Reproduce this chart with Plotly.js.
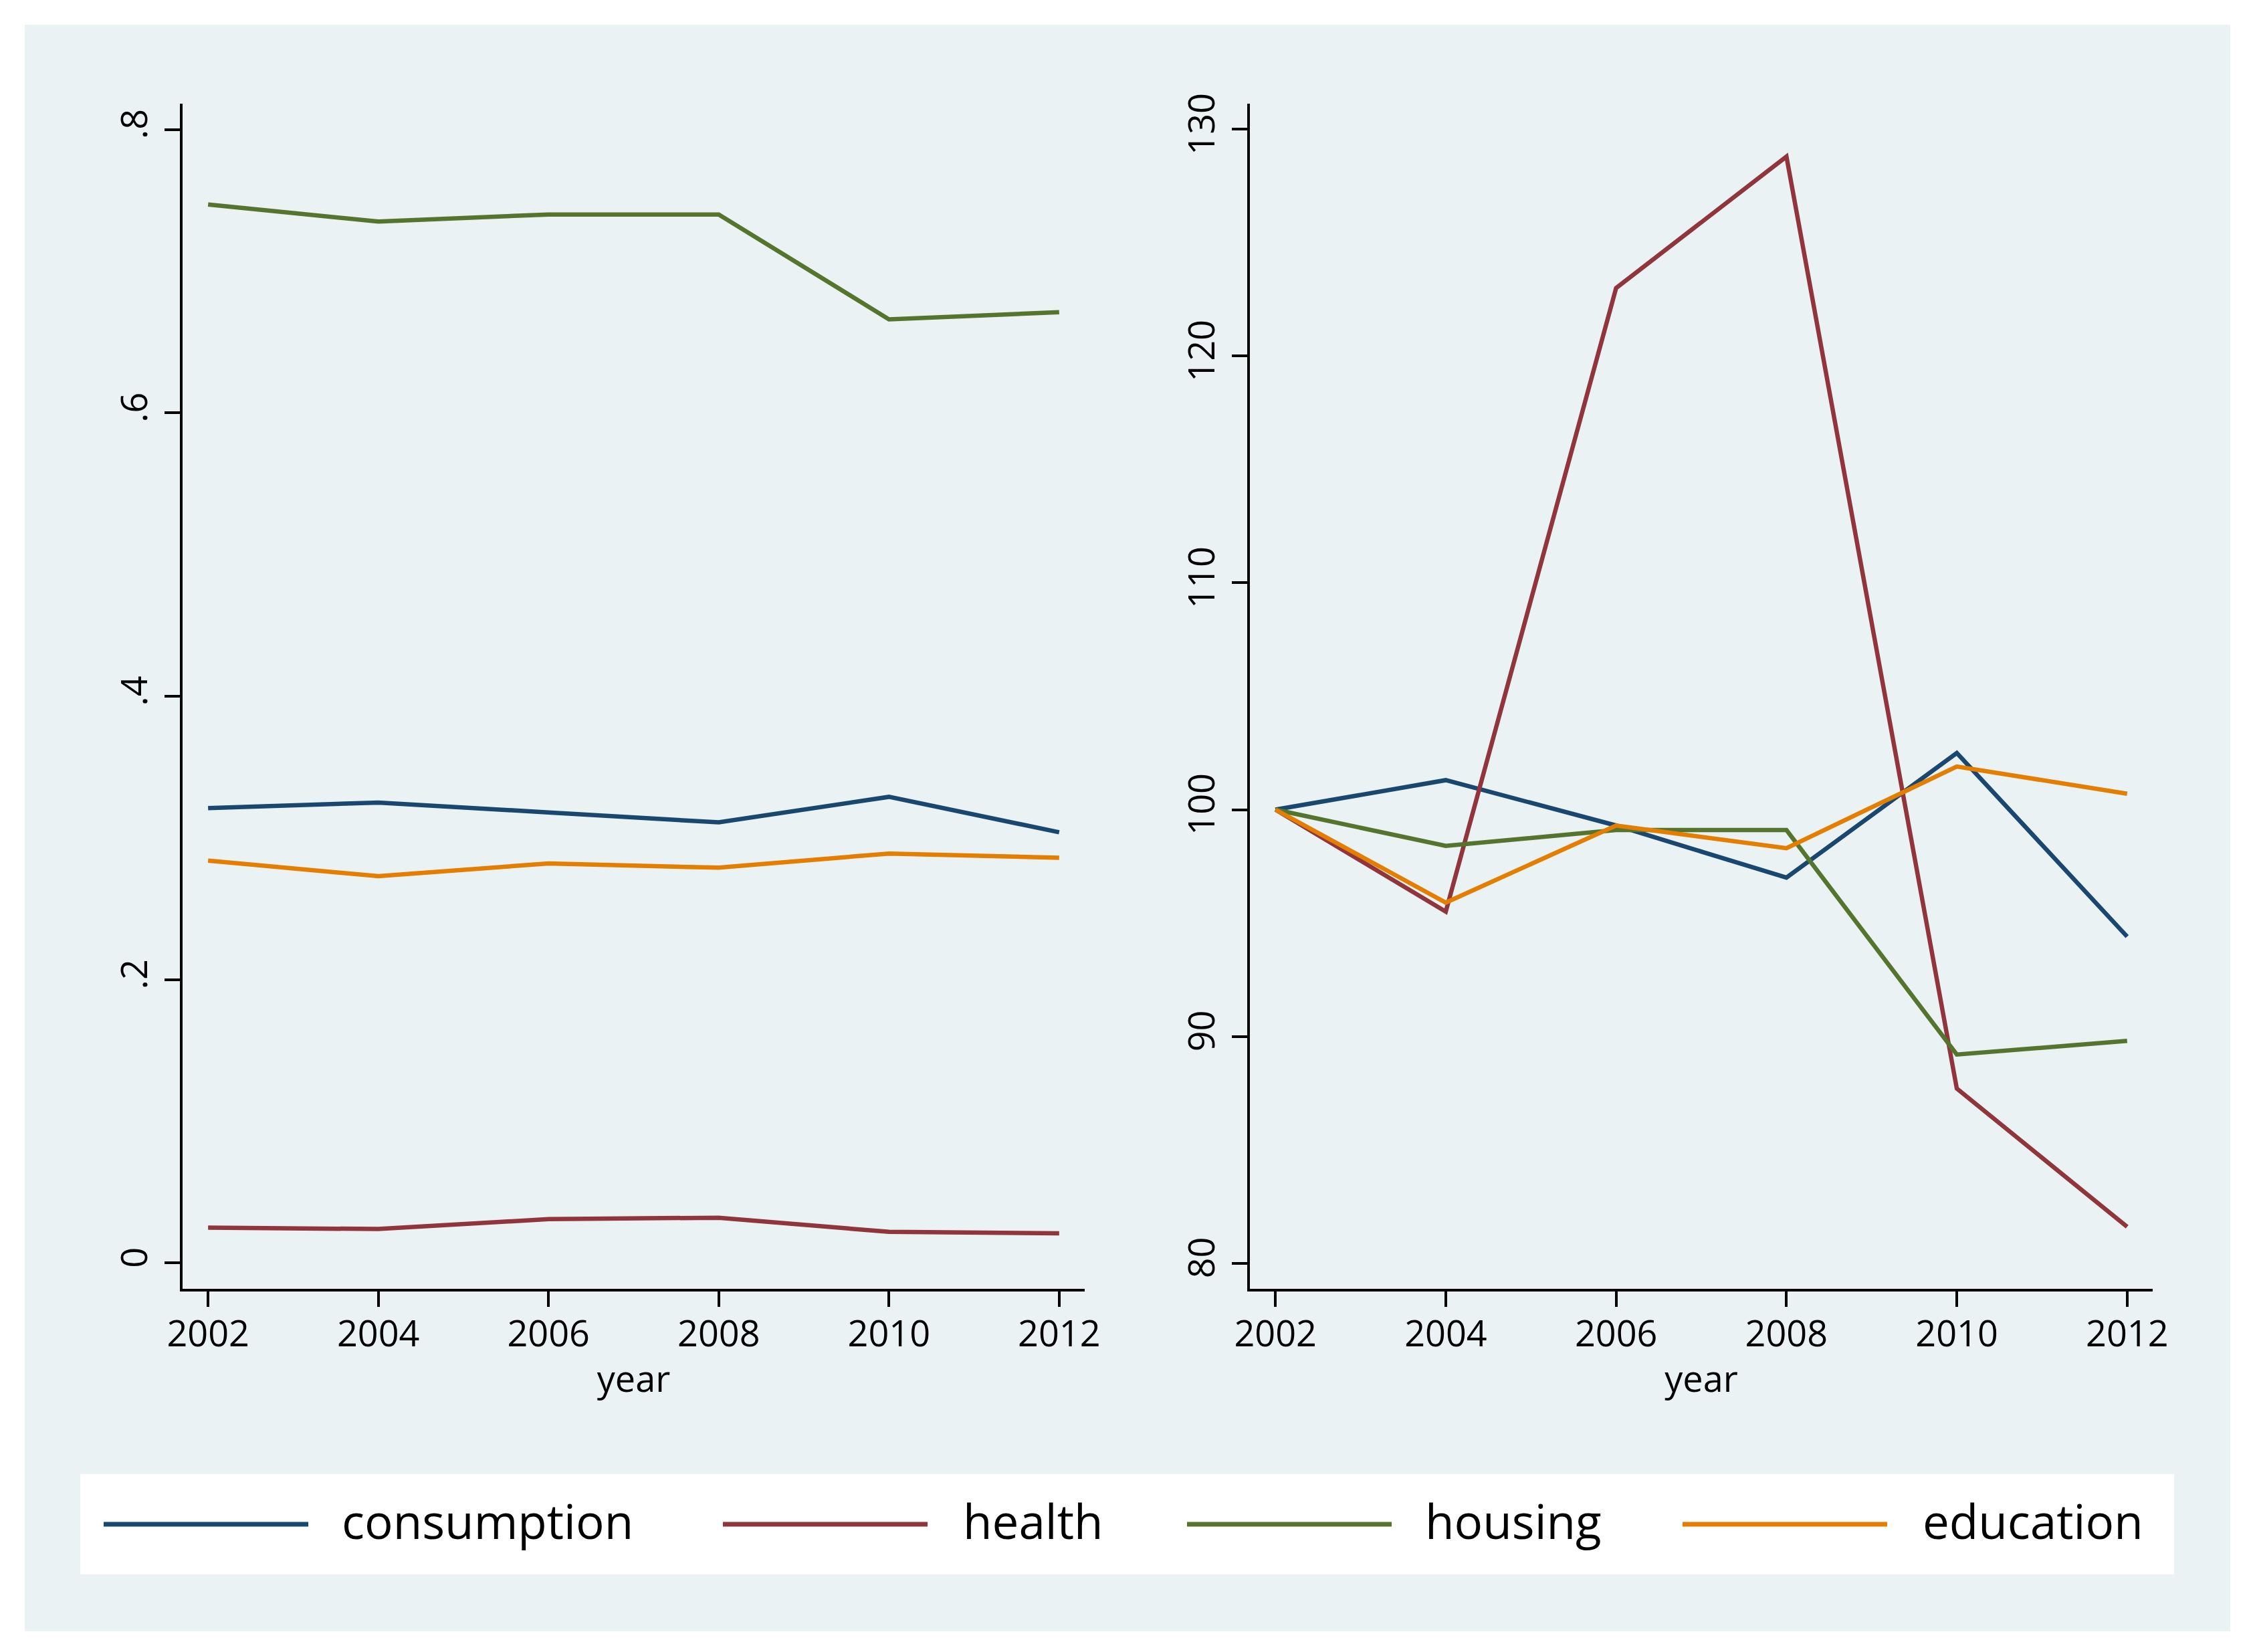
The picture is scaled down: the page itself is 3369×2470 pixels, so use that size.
<!DOCTYPE html>
<html>
<head>
<meta charset="utf-8">
<script src="https://cdn.plot.ly/plotly-3.0.1.min.js"></script>
<style>html,body{margin:0;padding:0;background:#fff;}#chart{width:3369px;height:2470px;}</style>
</head>
<body>
<div id="chart"></div>
<script>
// ---- data ----
const years = [2002, 2004, 2006, 2008, 2010, 2012];
const seriesNames = ["consumption", "health", "housing", "education"];
const seriesColors = ["#1a476f", "#90353b", "#55752f", "#e37e00"];

// left panel: budget shares
const consumptionShare = [0.321, 0.325, 0.318, 0.311, 0.329, 0.304];
const healthShare      = [0.025, 0.024, 0.031, 0.032, 0.022, 0.021];
const housingShare     = [0.747, 0.735, 0.740, 0.740, 0.666, 0.671];
const educationShare   = [0.284, 0.273, 0.282, 0.279, 0.289, 0.286];

// right panel: index (2002 = 100)
const consumptionIndex = [100, 101.3, 99.3, 97.0, 102.5, 94.4];
const healthIndex      = [100, 95.5, 123.0, 128.8, 87.7, 81.6];
const housingIndex     = [100, 98.4, 99.1, 99.1, 89.2, 89.8];
const educationIndex   = [100, 95.9, 99.3, 98.3, 101.9, 100.7];

const leftTickVals = [0, 0.2, 0.4, 0.6, 0.8];
const leftTickText = ["0", ".2", ".4", ".6", ".8"];
const rightTickVals = [80, 90, 100, 110, 120, 130];
const xTickVals = years;
const xTitle = "year";

// ---- figure ----
const W = 3369, H = 2470;
const px = v => v / W;
const py = v => (H - v) / H;

const leftSeries = [consumptionShare, healthShare, housingShare, educationShare];
const rightSeries = [consumptionIndex, healthIndex, housingIndex, educationIndex];

const traces = [];
leftSeries.forEach((s, i) => traces.push({
  x: years, y: s, type: "scatter", mode: "lines", name: seriesNames[i],
  line: {color: seriesColors[i], width: 6.5}, xaxis: "x", yaxis: "y", showlegend: false
}));
rightSeries.forEach((s, i) => traces.push({
  x: years, y: s, type: "scatter", mode: "lines", name: seriesNames[i],
  line: {color: seriesColors[i], width: 6.5}, xaxis: "x2", yaxis: "y2", showlegend: false
}));

const FONT = "Open Sans, Liberation Sans, sans-serif";
const xBase = {
  range: [2001.7, 2012.3], tickvals: xTickVals, ticks: "outside", ticklen: 23, tickwidth: 4,
  tickcolor: "#000", showline: true, linecolor: "#000", linewidth: 4, showgrid: false,
  zeroline: false, tickfont: {family: FONT, size: 54, color: "#000"}, ticklabelstandoff: -6,
  title: {text: xTitle, font: {family: FONT, size: 54, color: "#000"}, standoff: 16},
  automargin: false, fixedrange: true
};
const yBase = {
  ticks: "outside", ticklen: 23, tickwidth: 4, tickcolor: "#000", showline: true,
  linecolor: "#000", linewidth: 4, showgrid: true, gridcolor: "#eaf2f3", gridwidth: 6,
  zeroline: false, tickangle: -90, tickfont: {family: FONT, size: 54, color: "#000"},
  ticklabelstandoff: 4, automargin: false, fixedrange: true
};

const shapes = [
  {type: "rect", xref: "paper", yref: "paper", x0: px(37), x1: px(3335), y0: py(2439), y1: py(37),
   fillcolor: "#eaf2f3", line: {width: 0}, layer: "below"},
  {type: "rect", xref: "paper", yref: "paper", x0: px(120), x1: px(3251), y0: py(2354), y1: py(2204),
   fillcolor: "#ffffff", line: {width: 0}, layer: "below"}
];
const legendLineX = [155, 1081, 1775, 2516];
const legendTextX = [509, 1438, 2129, 2873];
const legendY = 2279;
const annotations = [];
seriesNames.forEach((n, i) => {
  shapes.push({type: "line", xref: "paper", yref: "paper", x0: px(legendLineX[i]), x1: px(legendLineX[i] + 306),
    y0: py(legendY), y1: py(legendY), line: {color: seriesColors[i], width: 7}});
  annotations.push({xref: "paper", yref: "paper", x: px(legendTextX[i]), y: py(legendY - 6), text: n,
    showarrow: false, xanchor: "left", yanchor: "middle", font: {family: FONT, size: 71, color: "#000"}});
});

const layout = {
  width: W, height: H, margin: {l: 0, r: 0, t: 0, b: 0, pad: 0},
  paper_bgcolor: "#ffffff", plot_bgcolor: "#ffffff", showlegend: false,
  xaxis: Object.assign({}, xBase, {domain: [px(273), px(1622)], anchor: "y"}),
  xaxis2: Object.assign({}, xBase, {domain: [px(1869), px(3219)], anchor: "y2"}),
  yaxis: Object.assign({}, yBase, {domain: [py(1927), py(155)], range: [-0.0182, 0.8182],
    tickvals: leftTickVals, ticktext: leftTickText, anchor: "x"}),
  yaxis2: Object.assign({}, yBase, {domain: [py(1927), py(155)], range: [78.867, 131.133],
    tickvals: rightTickVals, anchor: "x2"}),
  shapes: shapes, annotations: annotations
};

Plotly.newPlot("chart", traces, layout, {staticPlot: true, displayModeBar: false});
</script>
</body>
</html>
